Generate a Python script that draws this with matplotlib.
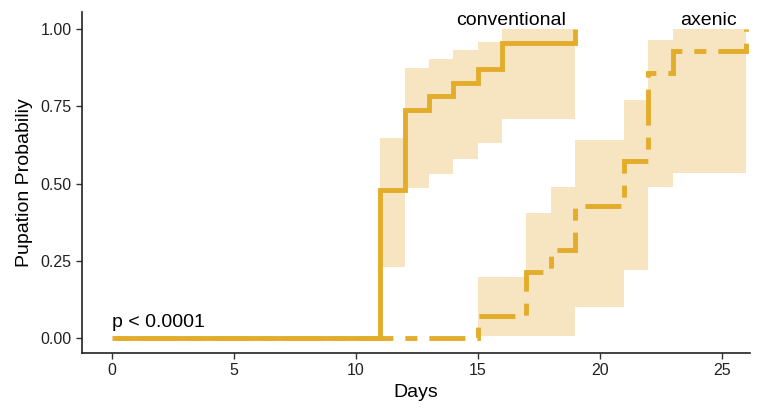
import matplotlib.pyplot as plt

plt.rcParams['font.family'] = ['Liberation Sans', 'DejaVu Sans']

# Kaplan-Meier style pupation curves (cumulative)
conv_days = [0, 11, 12, 13, 14, 15, 16, 19]
conv_prob = [0, 11/23, 17/23, 18/23, 19/23, 20/23, 22/23, 1.0]
conv_ci_days = [11, 12, 13, 14, 15, 16, 19]
conv_lower = [0.23, 0.485, 0.53, 0.58, 0.63, 0.71, 0.71]
conv_upper = [0.647, 0.874, 0.903, 0.932, 0.958, 1.0, 1.0]

axen_days = [0, 15, 17, 18, 19, 21, 22, 23, 26]
axen_prob = [0, 1/14, 3/14, 4/14, 6/14, 8/14, 12/14, 13/14, 1.0]
axen_ci_days = [15, 17, 18, 19, 21, 22, 23, 26]
axen_lower = [0.006, 0.006, 0.006, 0.1, 0.22, 0.49, 0.534, 0.534]
axen_upper = [0.197, 0.404, 0.489, 0.64, 0.77, 0.964, 1.0, 1.0]

line_col = '#E3AC2B'
fill_col = '#F6E5C0'

fig = plt.figure(figsize=(7.58, 4.08), dpi=100)
ax = fig.add_axes([0.108, 0.135, 0.881, 0.835])

ax.fill_between(conv_ci_days, conv_lower, conv_upper, step='post',
                color=fill_col, linewidth=0)
ax.fill_between(axen_ci_days, axen_lower, axen_upper, step='post',
                color=fill_col, linewidth=0)

ax.step(conv_days, conv_prob, where='post', color=line_col, lw=3.5,
        solid_joinstyle='miter', solid_capstyle='butt')
# ggplot "twodash" pattern: short dash, gap, long dash, gap
ax.step(axen_days, axen_prob, where='post', color=line_col, lw=3.5,
        linestyle=(13.8, (2.47, 2.47, 7.4, 2.47)),
        dash_capstyle='butt', dash_joinstyle='miter')

ax.text(16.35, 1.015, 'conventional', ha='center', va='baseline', fontsize=14)
ax.text(24.47, 1.015, 'axenic', ha='center', va='baseline', fontsize=14)
ax.text(0, 0.035, 'p < 0.0001', ha='left', va='baseline', fontsize=14)

ax.set_xlim(-1.23, 26.15)
ax.set_ylim(-0.049, 1.055)
ax.set_xticks([0, 5, 10, 15, 20, 25])
ax.set_yticks([0, 0.25, 0.5, 0.75, 1.0])
ax.set_yticklabels(['0.00', '0.25', '0.50', '0.75', '1.00'])
ax.tick_params(labelsize=11.5, length=4, width=1, color='#333333',
               labelcolor='#222222')

for s in ['top', 'right']:
    ax.spines[s].set_visible(False)
for s in ['left', 'bottom']:
    ax.spines[s].set_linewidth(1.2)
    ax.spines[s].set_color('#222222')

ax.set_xlabel('Days', fontsize=14, labelpad=4)
ax.set_ylabel('Pupation Probabiliy', fontsize=14, labelpad=5)

fig.savefig('out.png', dpi=100)
